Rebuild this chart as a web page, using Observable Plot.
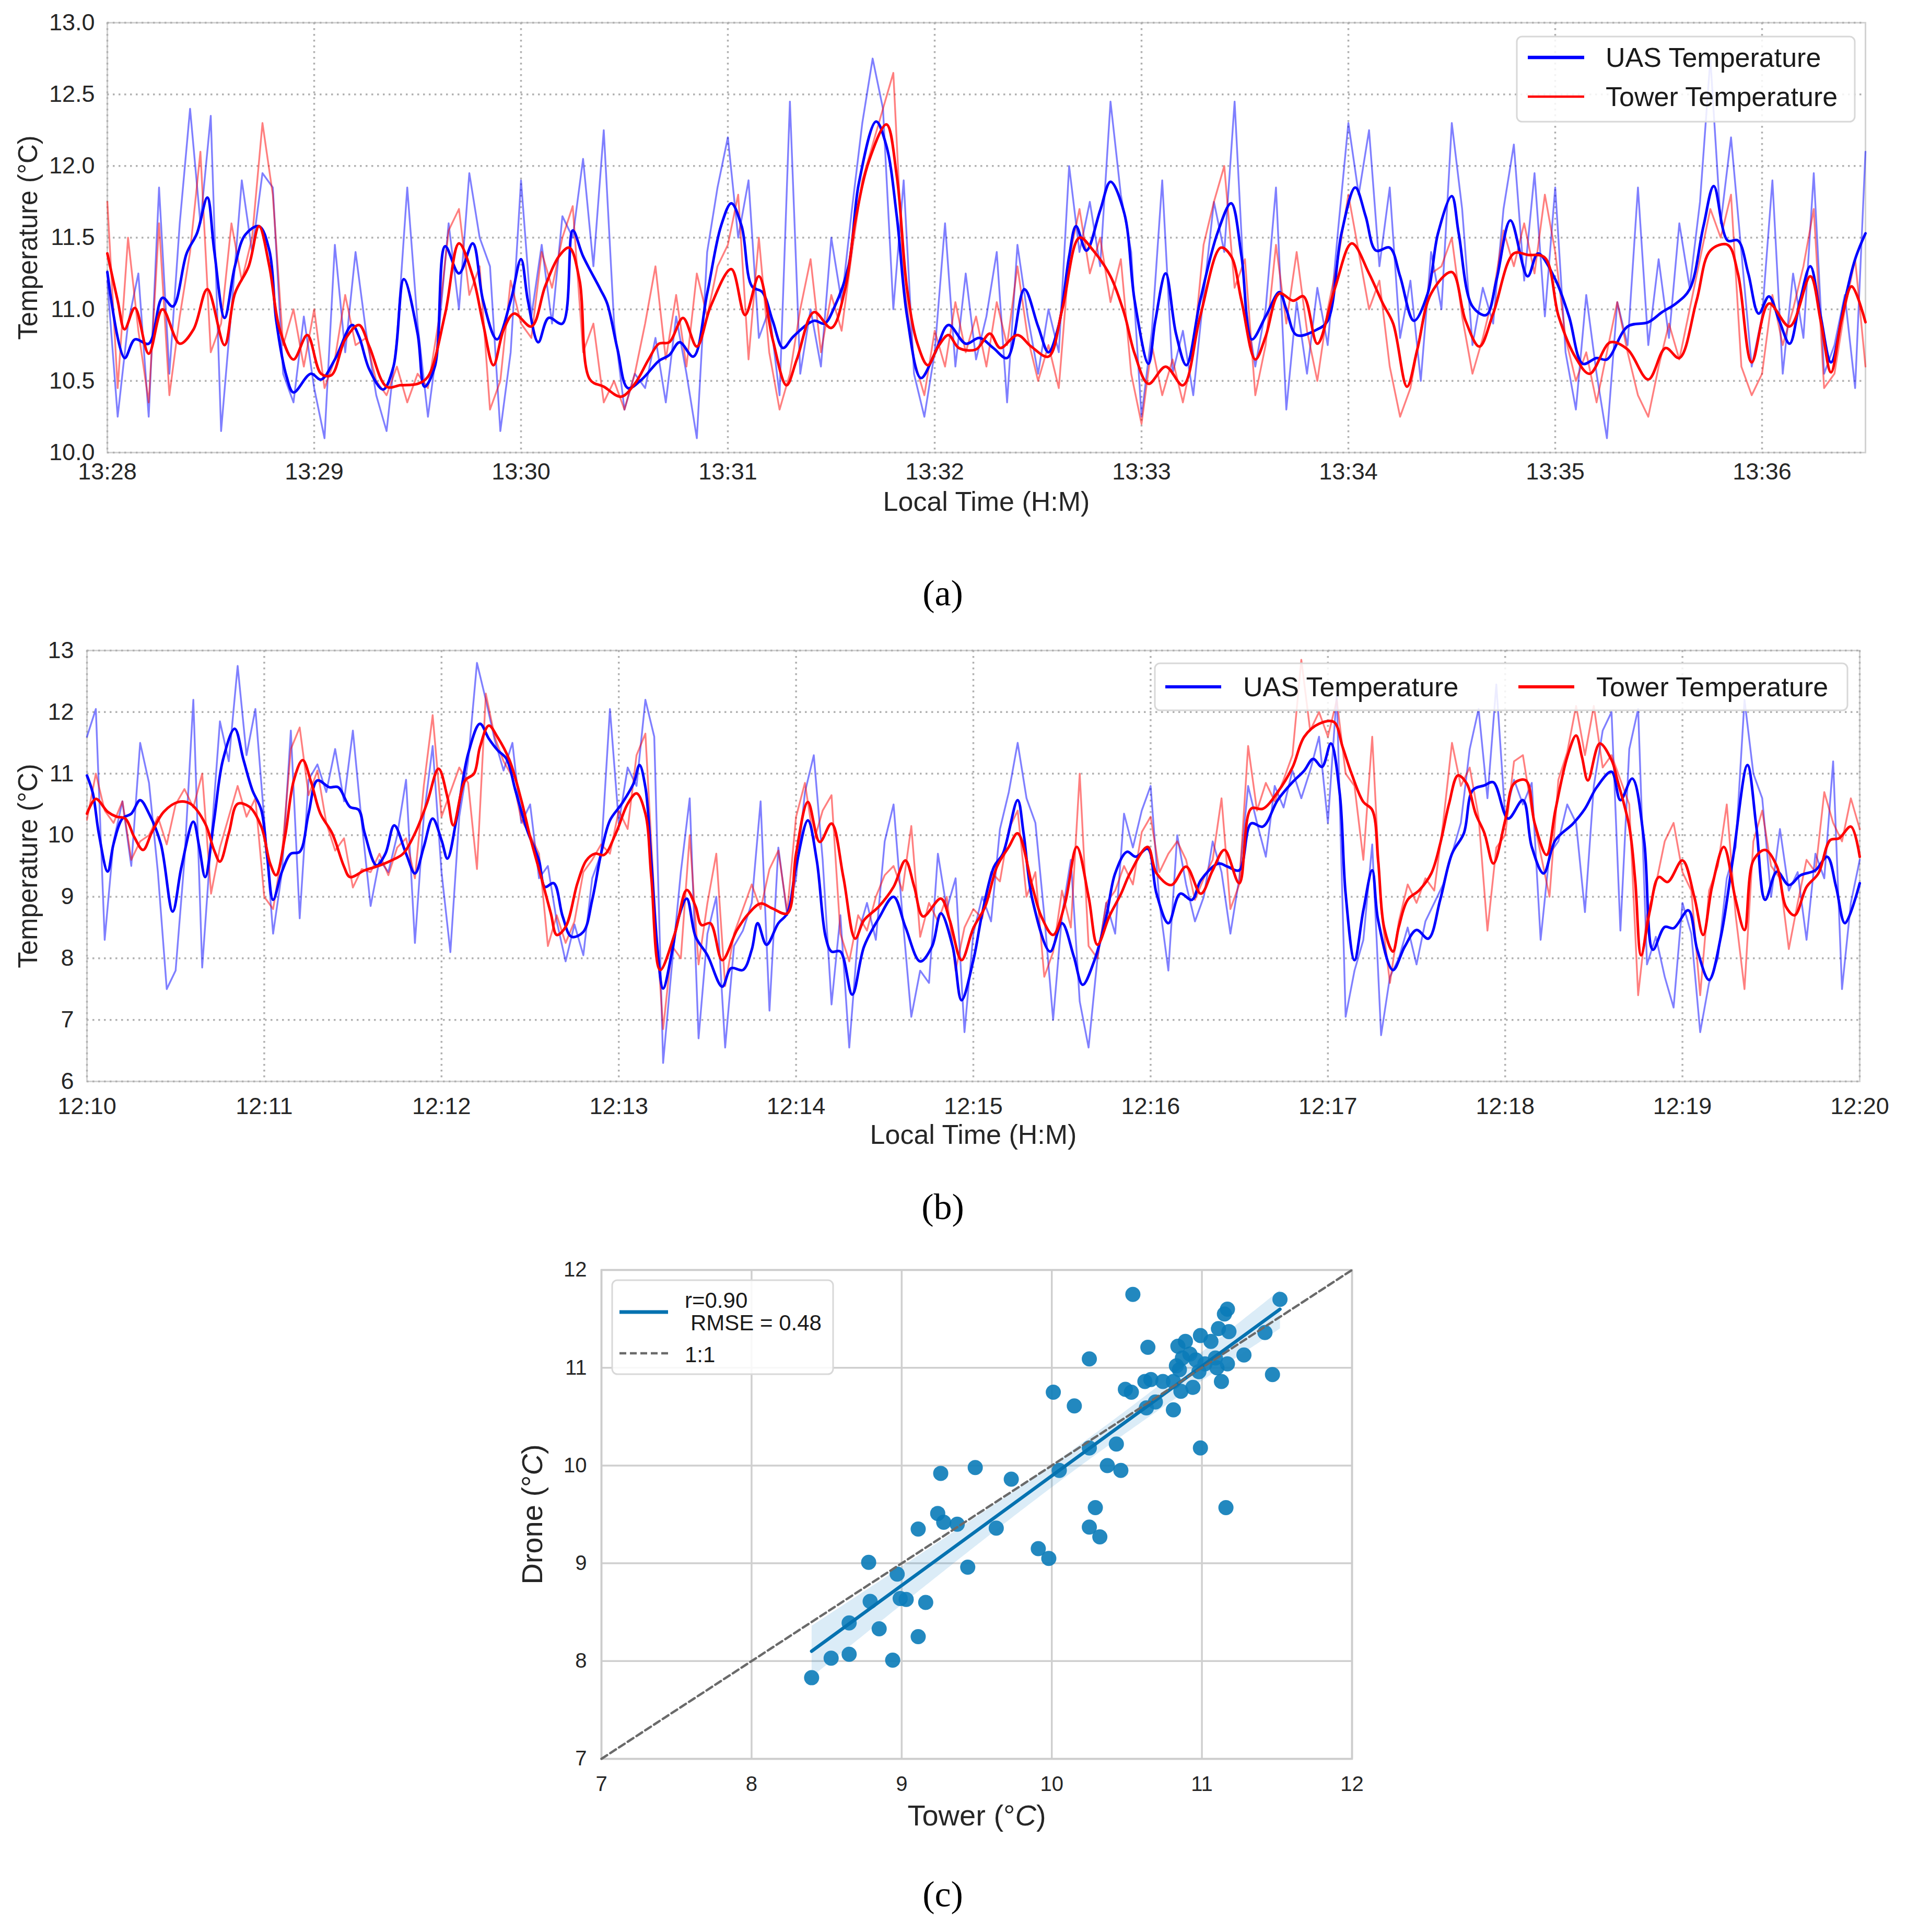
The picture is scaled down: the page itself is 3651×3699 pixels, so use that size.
<!DOCTYPE html>
<html>
<head>
<meta charset="utf-8">
<script src="https://cdn.jsdelivr.net/npm/d3@7"></script>
<script src="https://cdn.jsdelivr.net/npm/@observablehq/plot@0.6"></script>
<style>
  html, body { margin: 0; padding: 0; background: #ffffff; }
  #page { position: relative; width: 3651px; height: 3699px; background: #ffffff; overflow: hidden;
          font-family: "Liberation Sans", Arial, sans-serif; color: #262626; }
  .fig { position: absolute; left: 0; }
  .cap { position: absolute; font-family: "Liberation Serif", "Times New Roman", serif; font-size: 70px;
         color: #000; transform: translate(-50%, -50%); white-space: nowrap; line-height: 1; }
  #overlay { position: absolute; left: 0; top: 0; pointer-events: none; }
</style>
</head>
<body>
<div id="page">
  <div class="fig" id="figA" style="top:0px"></div>
  <div class="fig" id="figB" style="top:1180px"></div>
  <div class="fig" id="figC" style="top:2380px"></div>
  <div class="cap" style="left:1805px;top:1136px">(a)</div>
  <div class="cap" style="left:1805px;top:2311px">(b)</div>
  <div class="cap" style="left:1805px;top:3627px">(c)</div>
</div>
<script>
// ---------------- DATA ----------------
// Panel (a): 13:28:00 - 13:36:30, raw samples every 3 s
const aStep = 3;
const aEnd = 510;
const aTimeLabels = ["13:28","13:29","13:30","13:31","13:32","13:33","13:34","13:35","13:36"];
const aYTicks = [10, 10.5, 11, 11.5, 12, 12.5, 13];
const aUasRaw = [
  11.20,10.25,10.90,11.25,10.25,11.85,10.55,11.60,12.40,11.60,
  12.35,10.15,11.00,11.90,11.40,11.95,11.85,10.55,10.35,10.95,
  10.45,10.10,11.45,10.70,11.40,10.85,10.40,10.15,10.80,11.85,
  10.90,10.25,10.80,11.60,11.00,11.95,11.50,11.30,10.15,10.70,
  11.90,10.95,11.45,10.90,11.65,11.50,12.05,11.30,12.25,10.90,
  10.30,10.55,10.45,10.80,10.35,10.95,10.55,10.10,11.40,11.85,
  12.20,11.50,11.90,10.80,11.00,10.40,12.45,10.55,11.00,10.60,
  11.50,11.05,11.70,12.30,12.75,12.40,11.00,11.90,10.55,10.25,
  10.70,11.60,10.60,11.25,10.65,10.95,11.40,10.35,11.45,10.95,
  10.55,11.00,10.70,12.00,11.40,11.75,11.30,12.45,11.80,11.40,
  10.25,10.85,11.90,10.55,10.85,10.40,11.10,11.75,11.40,12.45,
  11.05,10.60,11.00,11.85,10.30,11.05,10.55,11.15,10.75,11.55,
  12.30,11.80,12.25,11.30,11.85,10.80,11.20,10.50,11.40,11.00,
  12.30,11.70,10.75,11.15,10.90,11.70,12.15,11.20,11.95,10.95,
  11.85,10.70,10.30,11.10,10.55,10.10,11.05,10.75,11.85,10.75,
  11.35,10.80,11.60,11.15,11.75,12.75,11.60,12.20,11.40,10.60,
  10.95,11.90,10.55,11.25,10.80,11.95,10.55,10.75,11.10,10.45,
  12.10
];
const aTowerRaw = [
  11.75,10.45,11.50,10.85,10.35,11.60,10.40,10.95,11.40,12.10,
  10.70,10.90,11.60,11.20,11.50,12.30,11.80,10.75,11.00,10.60,
  11.00,10.45,10.65,11.10,10.75,10.80,10.50,10.40,10.60,10.35,
  10.55,10.45,10.90,11.55,11.70,11.10,11.30,10.30,10.50,11.20,
  10.90,10.80,11.40,11.15,11.50,11.72,10.70,10.90,10.35,10.50,
  10.30,10.55,10.90,11.30,10.65,11.10,10.60,11.25,10.95,11.30,
  11.45,11.80,10.65,11.50,10.70,10.30,10.55,11.00,11.35,10.70,
  11.10,10.85,11.40,11.90,12.15,12.40,12.65,11.20,10.65,10.40,
  10.85,10.60,11.05,10.70,10.95,10.60,11.05,10.75,11.30,10.80,
  10.50,10.75,10.45,11.35,11.70,11.25,11.50,11.05,11.35,10.55,
  10.20,10.75,10.40,10.65,10.35,10.70,11.45,11.75,12.00,11.15,
  11.35,10.40,10.75,11.45,10.90,11.40,10.85,10.50,11.00,11.35,
  11.80,11.40,11.00,11.20,10.60,10.25,10.45,10.85,11.25,11.30,
  11.50,10.95,10.55,10.80,11.10,11.55,11.30,11.60,11.25,11.80,
  11.40,10.80,10.50,10.70,10.35,10.70,11.05,10.70,10.40,10.25,
  10.60,10.90,10.65,11.00,11.35,11.70,11.50,11.80,10.60,10.40,
  10.55,11.10,10.75,11.00,11.30,11.70,10.45,10.55,11.00,11.35,
  10.60
];
// smoothed series: [seconds from start, °C]
const aUasSmooth = [
  [0,11.26],[5,10.66],[8,10.79],[12,10.76],[16,11.08],[19,11.02],[23,11.39],[26,11.53],[29,11.78],[31,11.41],
  [34,10.94],[37,11.30],[40,11.52],[44,11.58],[47,11.41],[49,10.92],[52,10.53],[54,10.42],[59,10.55],[62,10.51],
  [66,10.65],[71,10.89],[73,10.81],[76,10.58],[80,10.44],[83,10.60],[86,11.21],[90,10.83],[92,10.46],[95,10.60],
  [98,11.44],[102,11.25],[106,11.46],[109,11.06],[113,10.79],[117,11.06],[120,11.35],[122,11.06],[125,10.77],[128,10.94],
  [132,10.90],[135,11.55],[138,11.37],[143,11.14],[145,11.04],[148,10.72],[151,10.45],[155,10.51],[160,10.64],[163,10.68],
  [166,10.77],[170,10.67],[174,11.11],[178,11.58],[181,11.74],[184,11.58],[187,11.16],[190,11.12],[193,10.92],[196,10.73],
  [199,10.81],[205,10.92],[208,10.90],[211,11.02],[215,11.30],[218,11.88],[223,12.31],[226,12.14],[229,11.65],[232,10.95],
  [236,10.52],[240,10.69],[244,10.89],[249,10.76],[253,10.80],[257,10.73],[261,10.66],[266,11.14],[270,10.88],[273,10.70],
  [276,10.89],[279,11.37],[281,11.58],[284,11.41],[288,11.69],[291,11.89],[295,11.67],[298,11.06],[302,10.62],[304,10.92],
  [307,11.25],[310,10.83],[313,10.61],[317,11.06],[322,11.53],[326,11.74],[329,11.37],[332,10.79],[336,10.95],[340,11.12],
  [342,11.00],[345,10.82],[351,10.86],[354,10.92],[358,11.53],[362,11.85],[365,11.65],[368,11.41],[372,11.43],[375,11.23],
  [379,10.92],[383,11.11],[386,11.53],[390,11.79],[392,11.53],[396,11.02],[400,10.96],[403,11.21],[407,11.62],[412,11.23],
  [415,11.39],[420,11.21],[424,10.95],[428,10.62],[432,10.66],[435,10.65],[441,10.88],[447,10.91],[451,10.98],[455,11.04],
  [459,11.14],[463,11.58],[466,11.86],[470,11.48],[473,11.48],[476,11.25],[479,10.97],[482,11.09],[485,10.92],[488,10.76],
  [491,11.06],[494,11.30],[497,10.95],[500,10.63],[504,11.06],[507,11.35],[510,11.53]
];
const aTowerSmooth = [
  [0,11.39],[3,11.06],[5,10.86],[8,11.01],[12,10.69],[16,11.00],[21,10.76],[25,10.86],[29,11.14],[34,10.75],
  [37,11.11],[41,11.30],[44,11.58],[47,11.30],[50,10.86],[54,10.65],[58,10.82],[62,10.55],[65,10.54],[69,10.79],
  [73,10.89],[76,10.74],[81,10.46],[85,10.47],[90,10.48],[93,10.53],[98,10.97],[102,11.46],[106,11.23],[109,10.90],
  [112,10.61],[115,10.86],[118,10.97],[123,10.88],[127,11.16],[131,11.37],[134,11.43],[137,11.20],[140,10.51],[144,10.46],
  [149,10.39],[153,10.48],[157,10.65],[160,10.76],[163,10.77],[167,10.94],[171,10.74],[175,11.02],[181,11.28],[185,10.96],
  [189,11.23],[193,10.79],[197,10.47],[200,10.65],[205,10.98],[210,10.87],[214,11.14],[217,11.62],[221,12.04],[226,12.29],
  [229,11.93],[232,11.14],[235,10.76],[238,10.61],[241,10.74],[244,10.82],[247,10.73],[252,10.72],[256,10.83],[259,10.73],
  [264,10.82],[268,10.74],[273,10.67],[277,11.00],[282,11.50],[286,11.41],[291,11.23],[295,10.97],[298,10.69],[302,10.48],
  [307,10.60],[312,10.47],[317,10.95],[323,11.43],[326,11.37],[329,11.06],[333,10.65],[336,10.81],[340,11.11],[344,11.06],
  [347,11.09],[351,10.76],[356,11.14],[361,11.46],[366,11.25],[370,11.04],[373,10.90],[377,10.46],[380,10.72],[384,11.11],
  [390,11.26],[394,10.92],[398,10.74],[402,10.97],[408,11.39],[412,11.38],[417,11.36],[421,10.95],[426,10.66],[430,10.55],
  [436,10.77],[441,10.72],[447,10.51],[452,10.73],[456,10.66],[461,11.06],[465,11.41],[470,11.45],[473,11.25],[477,10.63],
  [482,11.04],[488,10.88],[494,11.23],[497,10.92],[500,10.56],[503,10.92],[506,11.16],[510,10.91]
];

// Panel (b): 12:10:00 - 12:20:00, raw samples every 3 s
const bStep = 3;
const bEnd = 600;
const bTimeLabels = ["12:10","12:11","12:12","12:13","12:14","12:15","12:16","12:17","12:18","12:19","12:20"];
const bYTicks = [6, 7, 8, 9, 10, 11, 12, 13];
const bUasRaw = [
  11.60,12.05,8.30,9.90,10.55,9.50,11.50,10.85,9.40,7.50,
  7.80,9.60,12.20,7.85,9.90,11.85,11.20,12.75,11.30,12.05,
  10.25,8.40,9.40,11.70,8.65,10.90,11.15,10.70,11.40,10.55,
  11.70,10.20,8.85,9.60,9.40,10.00,10.90,8.25,10.30,11.45,
  9.40,8.10,10.30,11.20,12.80,12.20,11.55,11.05,11.50,10.20,
  10.50,9.30,9.50,8.60,7.95,8.55,8.05,9.30,9.70,12.05,
  10.20,11.10,10.80,12.20,11.60,6.30,7.90,9.40,10.60,6.70,
  8.40,9.00,6.55,8.20,8.45,8.90,10.55,7.15,9.80,8.70,
  9.30,10.70,11.30,9.60,7.25,8.70,6.55,8.40,8.90,8.30,
  9.90,10.50,8.70,7.05,7.80,7.60,9.70,8.80,9.30,6.80,
  8.40,9.00,8.60,10.10,10.70,11.50,10.60,10.20,8.70,7.00,
  8.70,9.60,7.30,6.55,8.00,8.90,8.40,10.35,9.80,10.40,
  10.80,8.90,7.80,10.00,9.20,8.60,9.00,9.90,9.40,8.40,
  9.30,10.80,10.20,9.65,10.80,10.45,11.05,10.60,11.05,11.60,
  10.20,12.30,7.05,7.80,8.30,9.85,6.75,7.70,8.00,8.50,
  7.90,8.60,8.90,9.20,9.70,10.20,11.40,12.05,10.60,12.45,
  10.30,10.90,10.50,10.85,8.30,9.70,9.90,10.50,10.20,8.75,
  10.80,11.70,12.00,8.45,11.40,12.05,7.90,8.35,7.70,7.20,
  8.90,8.40,6.80,7.60,8.00,9.30,9.80,12.20,11.00,10.60,
  9.00,10.10,9.10,9.40,8.30,9.70,9.30,11.20,7.50,8.90,
  9.60
];
const bTowerRaw = [
  10.25,11.00,10.40,10.20,10.55,9.60,9.90,10.00,10.30,9.85,
  10.50,10.75,10.45,11.00,9.05,9.80,10.30,10.80,10.30,10.60,
  9.00,8.80,9.70,11.40,11.75,10.65,11.05,10.20,9.75,9.95,
  9.15,9.45,9.40,9.70,9.35,9.80,9.95,9.30,10.80,11.95,
  10.30,10.70,11.10,10.85,9.45,12.30,11.60,11.20,10.95,10.25,
  10.00,9.70,8.20,8.70,8.25,8.60,9.40,9.60,9.85,9.70,
  10.40,10.10,11.30,11.65,9.00,6.85,8.20,8.00,10.00,7.90,
  8.90,9.70,7.55,8.40,8.80,9.20,8.80,9.45,9.75,8.75,
  10.30,10.85,9.90,10.40,10.65,8.40,7.95,8.70,8.45,9.00,
  9.35,9.50,9.10,10.15,8.35,8.90,8.60,9.00,7.80,8.50,
  8.80,8.65,9.40,9.25,10.10,10.40,9.00,9.40,7.70,8.10,
  9.10,8.50,11.00,8.20,8.00,8.90,9.10,9.50,9.20,10.05,
  10.30,9.40,9.70,9.90,9.60,8.95,9.30,9.60,10.60,8.80,
  9.20,11.45,10.40,10.85,10.55,10.90,11.30,12.85,11.70,12.00,
  11.60,12.20,11.00,10.80,9.60,11.60,8.80,7.60,8.60,9.20,
  8.90,9.30,9.10,10.20,11.50,10.80,11.10,10.30,8.45,9.80,
  10.00,11.20,11.30,10.40,9.70,9.00,10.90,11.35,12.10,11.30,
  12.10,11.10,11.30,10.90,10.50,7.40,8.70,9.20,9.90,10.20,
  9.40,9.10,7.40,9.10,9.50,10.50,8.70,7.50,9.90,10.40,
  9.50,9.30,8.15,8.90,9.60,9.40,10.70,10.20,9.90,10.60,
  10.10
];
const bUasSmooth = [
  [0,10.97],[2,10.68],[4,10.03],[7,9.41],[9,9.86],[12,10.27],[15,10.35],[18,10.57],[21,10.35],[25,9.86],
  [29,8.76],[32,9.49],[36,10.22],[38,9.81],[40,9.32],[43,10.24],[46,11.22],[50,11.73],[53,11.22],[56,10.73],
  [59,10.41],[61,9.65],[63,8.95],[66,9.41],[69,9.70],[72,9.73],[75,10.35],[78,10.89],[82,10.78],[85,10.78],
  [89,10.46],[92,10.41],[94,10.03],[98,9.51],[101,9.70],[104,10.16],[108,9.70],[111,9.38],[114,9.81],[117,10.27],
  [120,9.92],[122,9.62],[125,10.24],[129,11.32],[133,11.81],[136,11.57],[139,11.38],[142,11.24],[145,10.73],[149,10.08],
  [153,9.59],[155,9.16],[158,9.22],[161,8.68],[164,8.35],[168,8.43],[171,8.95],[174,9.70],[177,10.24],[181,10.51],
  [185,10.84],[187,11.14],[189,10.78],[191,9.59],[193,8.20],[195,7.51],[198,8.10],[200,8.62],[203,8.97],[206,8.35],
  [210,8.05],[215,7.54],[218,7.84],[222,7.81],[225,8.14],[227,8.57],[230,8.22],[234,8.57],[237,8.73],[240,9.49],
  [244,10.24],[247,9.59],[250,8.35],[252,8.11],[255,8.11],[259,7.41],[263,8.19],[268,8.65],[273,9.00],[277,8.51],
  [282,7.95],[286,8.19],[289,8.73],[293,8.19],[296,7.32],[300,7.97],[303,8.73],[307,9.49],[310,9.70],[315,10.57],
  [317,10.03],[320,8.95],[326,8.11],[330,8.57],[334,8.03],[337,7.57],[341,7.97],[345,8.68],[348,9.38],[352,9.73],
  [355,9.65],[359,9.78],[362,9.05],[366,8.57],[370,9.05],[374,8.95],[377,9.27],[383,9.54],[386,9.49],[390,9.43],
  [394,10.19],[398,10.14],[403,10.57],[408,10.86],[412,11.05],[415,11.24],[418,11.11],[421,11.49],[424,10.68],[426,9.05],
  [429,7.97],[432,8.78],[435,9.43],[437,8.62],[442,7.81],[446,8.19],[450,8.46],[454,8.32],[458,8.95],[462,9.70],
  [466,10.03],[469,10.73],[473,10.81],[476,10.86],[481,10.27],[486,10.57],[489,9.81],[493,9.38],[497,9.92],[503,10.19],
  [507,10.43],[511,10.78],[516,11.03],[519,10.57],[523,10.92],[527,9.92],[530,8.14],[534,8.51],[537,8.49],[542,8.78],
  [545,8.14],[549,7.65],[553,8.35],[557,9.59],[562,11.14],[565,10.14],[568,8.95],[572,9.41],[576,9.19],[580,9.35],
  [585,9.43],[589,9.65],[592,9.16],[595,8.57],[600,9.22]
];
const bTowerSmooth = [
  [0,10.35],[3,10.59],[7,10.38],[10,10.30],[13,10.27],[16,9.97],[19,9.76],[22,10.05],[26,10.38],[31,10.54],
  [35,10.51],[40,10.19],[43,9.76],[45,9.57],[48,10.03],[51,10.51],[55,10.46],[59,10.14],[62,9.54],[64,9.35],
  [67,9.97],[70,10.89],[73,11.22],[76,10.84],[79,10.35],[83,10.03],[87,9.49],[89,9.32],[94,9.43],[98,9.49],
  [103,9.59],[107,9.70],[111,10.03],[115,10.51],[119,11.08],[122,10.62],[124,10.16],[128,10.89],[131,11.00],[133,11.43],
  [136,11.78],[139,11.59],[143,11.22],[147,10.57],[150,9.97],[154,9.27],[157,8.73],[159,8.38],[162,8.51],[166,9.22],
  [169,9.59],[172,9.70],[175,9.68],[179,10.03],[183,10.51],[186,10.68],[189,10.35],[191,9.32],[194,7.81],[199,8.41],
  [203,9.11],[206,8.84],[208,8.54],[211,8.57],[215,7.97],[220,8.46],[224,8.73],[228,8.89],[232,8.81],[237,8.73],
  [240,9.70],[244,10.54],[248,9.89],[252,10.19],[256,9.32],[260,8.32],[263,8.62],[268,8.84],[273,9.16],[277,9.59],
  [280,9.16],[283,8.68],[289,8.97],[292,8.62],[296,7.97],[300,8.49],[304,8.84],[308,9.49],[312,9.81],[315,10.03],
  [320,9.16],[323,8.68],[327,8.38],[331,8.89],[335,9.81],[339,9.00],[342,8.22],[346,8.68],[350,9.05],[353,9.38],
  [359,9.81],[362,9.38],[367,9.19],[372,9.49],[377,9.05],[381,9.43],[385,9.76],[390,9.22],[394,10.43],[398,10.43],
  [403,10.70],[408,11.10],[412,11.60],[417,11.81],[422,11.84],[425,11.43],[428,11.00],[432,10.54],[435,10.41],[437,9.59],
  [439,8.51],[442,8.11],[444,8.51],[447,8.95],[451,9.11],[455,9.38],[458,9.86],[461,10.51],[464,10.97],[467,10.84],
  [470,10.35],[473,10.03],[476,9.54],[480,10.24],[483,10.84],[487,10.89],[490,10.19],[494,9.68],[497,10.41],[501,11.27],
  [504,11.62],[506,11.27],[508,10.89],[512,11.49],[516,11.22],[518,10.89],[522,10.14],[524,9.27],[526,8.05],[529,8.78],
  [532,9.32],[535,9.24],[540,9.59],[544,9.00],[547,8.38],[550,9.16],[554,9.81],[558,8.95],[561,8.46],[564,9.59],
  [568,9.76],[572,9.49],[575,8.84],[578,8.70],[582,9.16],[586,9.38],[590,9.92],[593,9.95],[597,10.14],[600,9.65]
];

// Panel (c): scatter Tower vs Drone
const cTicks = [7, 8, 9, 10, 11, 12];
const cTower = [
  8.40,8.53,8.65,8.65,8.79,8.78,8.85,8.94,8.97,8.99,9.03,9.11,9.16,9.11,9.24,9.28,9.26,9.37,9.44,9.49,
  9.63,9.73,9.91,9.98,10.01,10.05,10.15,10.25,10.25,10.25,10.29,10.32,10.37,10.43,10.46,10.49,10.53,10.54,10.62,10.64,
  10.66,10.63,10.69,10.74,10.81,10.81,10.84,10.85,10.86,10.89,10.87,10.92,10.94,10.96,10.98,10.99,10.99,11.06,11.09,11.10,
  11.11,11.13,11.15,11.17,11.18,11.17,11.16,11.28,11.42,11.47,11.52,11.02,10.83
];
const cDrone = [
  7.83,8.03,8.07,8.39,8.61,9.01,8.33,8.01,8.89,8.64,8.63,8.25,8.60,9.35,9.51,9.42,9.92,9.40,8.96,9.98,
  9.36,9.86,9.15,9.05,10.75,9.95,10.61,9.37,10.18,11.09,9.57,9.27,10.00,10.22,9.95,10.78,10.75,11.75,10.86,11.21,
  10.88,10.59,10.65,10.86,10.57,10.86,11.22,10.98,10.76,11.27,11.10,11.14,10.80,11.08,10.96,11.33,10.18,11.27,11.10,11.00,
  11.40,10.86,11.55,11.60,11.37,11.04,9.57,11.13,11.36,10.93,11.70,11.04,11.02
];
const cOneToOne = [7, 12];

// text
const xLabelTime = "Local Time (H:M)";
const yLabelTemp = "Temperature (°C)";
const legendNames = ["UAS Temperature", "Tower Temperature"];
const cXLabel = "Tower (°C)";
const cYLabel = "Drone (°C)";
const cLegendFit = ["r=0.90", "RMSE = 0.48"];
const cLegendOne = "1:1";

// ---------------- DRAWING ----------------
const FONT = "'Liberation Sans', Arial, Helvetica, sans-serif";
const UAS = "#0000ff", TOWER = "#ff0000";

function timePanel(o) {
  const xTicks = o.timeLabels.map((_, i) => i * 60);
  const yMin = o.yTicks[0], yMax = o.yTicks[o.yTicks.length - 1];
  return Plot.plot({
    width: 3651,
    height: o.height,
    marginLeft: o.ml, marginRight: o.mr, marginTop: o.mt, marginBottom: o.mb,
    style: { fontFamily: FONT, fontSize: "45px", color: "#262626", background: "transparent", overflow: "visible" },
    x: { domain: [0, o.end], ticks: xTicks, tickFormat: v => o.timeLabels[Math.round(v / 60)], tickSize: 0, tickPadding: o.padX, label: null },
    y: { domain: [yMin, yMax], ticks: o.yTicks, tickFormat: o.yFormat, tickSize: 0, tickPadding: o.padY, label: null },
    marks: [
      Plot.frame({ stroke: "#d2d2d2", strokeWidth: 3 }),
      Plot.ruleY(o.yTicks, { stroke: "#b0b0b0", strokeWidth: 3.5, strokeDasharray: "3.5,7.5" }),
      Plot.ruleX(xTicks, { stroke: "#b0b0b0", strokeWidth: 3.5, strokeDasharray: "3.5,7.5" }),
      Plot.line(o.uasRaw, { x: (d, i) => i * o.step, y: d => d, stroke: UAS, strokeOpacity: 0.5, strokeWidth: 3.4 }),
      Plot.line(o.towerRaw, { x: (d, i) => i * o.step, y: d => d, stroke: TOWER, strokeOpacity: 0.5, strokeWidth: 3.4 }),
      Plot.line(o.uasSmooth, { x: d => d[0], y: d => d[1], stroke: UAS, strokeWidth: 5, curve: "catmull-rom" }),
      Plot.line(o.towerSmooth, { x: d => d[0], y: d => d[1], stroke: TOWER, strokeWidth: 5, curve: "catmull-rom" }),
      Plot.text([xLabelTime], { text: d => d, frameAnchor: "bottom", lineAnchor: "middle", textAnchor: "middle", dy: o.xLabelDy, fontSize: 52, fill: "#262626" }),
      Plot.text([yLabelTemp], { text: d => d, frameAnchor: "left", lineAnchor: "middle", textAnchor: "middle", dx: o.yLabelDx, rotate: -90, fontSize: 51, fill: "#262626" })
    ]
  });
}

const plotA = timePanel({
  height: 1000, ml: 205, mr: 80, mt: 43, mb: 134, end: aEnd, step: aStep,
  timeLabels: aTimeLabels, yTicks: aYTicks, yFormat: d3.format(".1f"),
  padX: 20, padY: 24, xLabelDy: 95, yLabelDx: -151,
  uasRaw: aUasRaw, towerRaw: aTowerRaw, uasSmooth: aUasSmooth, towerSmooth: aTowerSmooth
});
document.getElementById("figA").appendChild(plotA);

const plotB = timePanel({
  height: 1050, ml: 166, mr: 91, mt: 65, mb: 160, end: bEnd, step: bStep,
  timeLabels: bTimeLabels, yTicks: bYTicks, yFormat: d3.format("d"),
  padX: 31, padY: 25, xLabelDy: 103, yLabelDx: -112,
  uasRaw: bUasRaw, towerRaw: bTowerRaw, uasSmooth: bUasSmooth, towerSmooth: bTowerSmooth
});
document.getElementById("figB").appendChild(plotB);

const cPoints = cTower.map((t, i) => ({ tower: t, drone: cDrone[i] }));
const C_BLUE = "#0a7bb8";
const plotC = Plot.plot({
  width: 3651, height: 1150,
  marginLeft: 1151, marginRight: 1063, marginTop: 51, marginBottom: 163,
  style: { fontFamily: FONT, fontSize: "40px", color: "#262626", background: "transparent", overflow: "visible" },
  x: { domain: [7, 12], ticks: cTicks, tickFormat: d3.format("d"), tickSize: 0, tickPadding: 33, label: null },
  y: { domain: [7, 12], ticks: cTicks, tickFormat: d3.format("d"), tickSize: 0, tickPadding: 28, label: null },
  marks: [
    Plot.ruleX(cTicks, { stroke: "#cfcfcf", strokeWidth: 3.5 }),
    Plot.ruleY(cTicks, { stroke: "#cfcfcf", strokeWidth: 3.5 }),
    Plot.frame({ stroke: "#cccccc", strokeWidth: 3.5 }),
    Plot.dot(cPoints, { x: "tower", y: "drone", r: 14.5, fill: C_BLUE, fillOpacity: 0.9, stroke: "none" }),
    Plot.linearRegressionY(cPoints, { x: "tower", y: "drone", stroke: "#0572b0", strokeWidth: 6.5, fill: "#2b8fcf", fillOpacity: 0.17, ci: 0.95 }),
    Plot.line(cOneToOne, { x: d => d, y: d => d, stroke: "#6a6a6a", strokeWidth: 4.5, strokeDasharray: "13,7" }),
    Plot.text([cXLabel], { text: d => d, frameAnchor: "bottom", lineAnchor: "middle", textAnchor: "middle", dy: 110, fontSize: 56, fill: "#262626" }),
    Plot.text([cYLabel], { text: d => d, frameAnchor: "left", lineAnchor: "middle", textAnchor: "middle", dx: -131, rotate: -90, fontSize: 56, fill: "#262626" })
  ]
});
// italic C in the °C of panel (c) axis labels
d3.select(plotC).selectAll("text").filter(function () {
  return this.textContent === cXLabel || this.textContent === cYLabel;
}).each(function () {
  const s = d3.select(this);
  const base = this.textContent.replace(" (°C)", "");
  s.text(null);
  s.append("tspan").text(base + " (°");
  s.append("tspan").attr("font-style", "italic").text("C");
  s.append("tspan").text(")");
});
document.getElementById("figC").appendChild(plotC);

// ---------------- LEGENDS (overlay) ----------------
const ov = d3.select("#page").append("svg").attr("id", "overlay")
  .attr("width", 3651).attr("height", 3699)
  .style("font-family", FONT).style("fill", "#262626");

function box(x, y, w, h) {
  ov.append("rect").attr("x", x).attr("y", y).attr("width", w).attr("height", h).attr("rx", 10)
    .attr("fill", "#ffffff").attr("fill-opacity", 0.85).attr("stroke", "#d8d8d8").attr("stroke-width", 3);
}
function sample(x1, x2, y, color, width, dash) {
  const l = ov.append("line").attr("x1", x1).attr("x2", x2).attr("y1", y).attr("y2", y)
    .attr("stroke", color).attr("stroke-width", width);
  if (dash) l.attr("stroke-dasharray", dash);
}
function label(x, y, txt, size) {
  ov.append("text").attr("x", x).attr("y", y).attr("dominant-baseline", "central")
    .attr("font-size", size).attr("fill", "#1a1a1a").text(txt);
}

// (a)
box(2904, 70, 647, 163);
sample(2925, 3033, 110, UAS, 6.5);
label(3074, 110, legendNames[0], 52);
sample(2925, 3033, 185, TOWER, 4.5);
label(3074, 185, legendNames[1], 52);

// (b)
box(2211, 1270, 1326, 90);
sample(2231, 2338, 1315, UAS, 6);
label(2380, 1315, legendNames[0], 52);
sample(2907, 3014, 1315, TOWER, 6);
label(3056, 1315, legendNames[1], 52);

// (c)
box(1172, 2451, 423, 180);
sample(1186, 1279, 2512, "#0572b0", 7);
label(1311, 2489, cLegendFit[0], 42);
label(1322, 2532, cLegendFit[1], 42);
sample(1186, 1279, 2591, "#6a6a6a", 4.5, "13,7");
label(1311, 2593, cLegendOne, 42);
</script>
</body>
</html>
